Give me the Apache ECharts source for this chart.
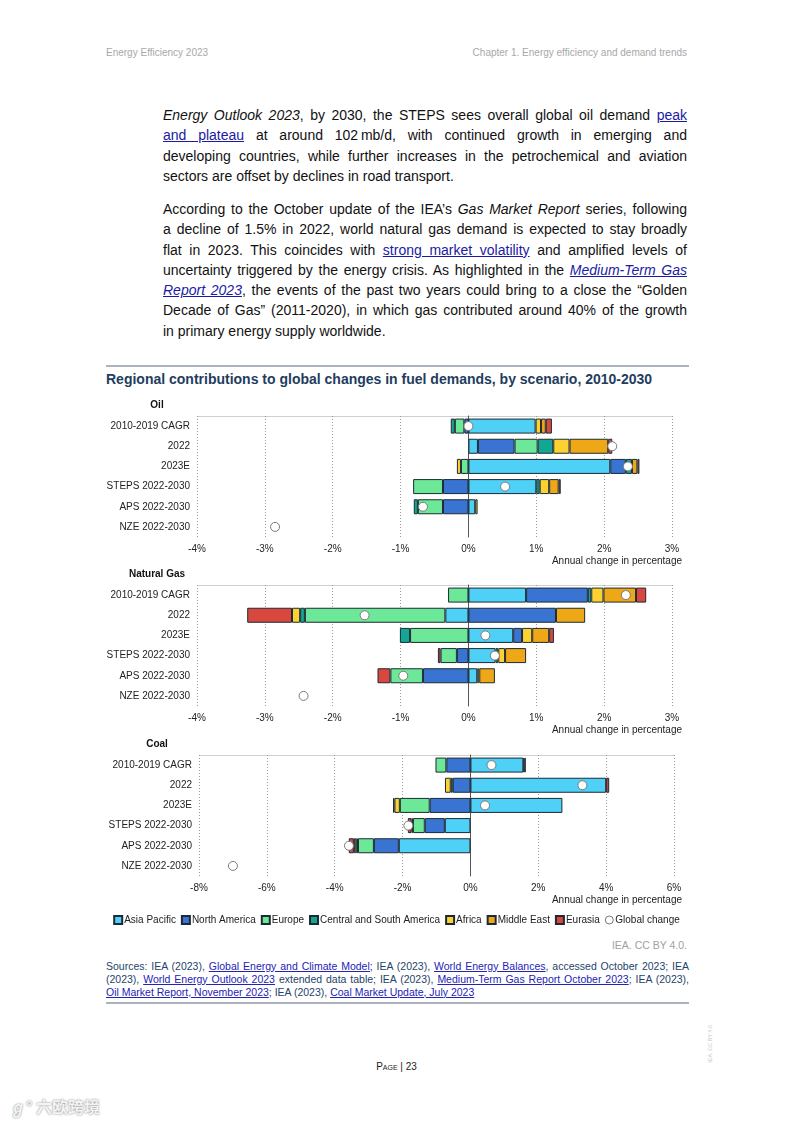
<!DOCTYPE html>
<html>
<head>
<meta charset="utf-8">
<script src="https://cdn.jsdelivr.net/npm/echarts@6/dist/echarts.min.js"></script>
<style>
html,body{margin:0;padding:0;background:#fff;}
body{width:793px;height:1122px;position:relative;overflow:hidden;font-family:"Liberation Sans",Arial,sans-serif;}
.hdr{position:absolute;top:47px;font-size:10px;color:#a8a8a8;}
.ln{position:absolute;left:163px;width:524px;font-size:14px;line-height:20px;height:20px;color:#111;text-align:justify;text-align-last:justify;white-space:nowrap;}
.ln.last{text-align-last:left;}
a{color:#1a1aa6;text-decoration:underline;}
.rule{position:absolute;left:106px;width:583px;height:2px;background:#aab3be;}
.title{position:absolute;left:106px;top:371px;font-size:14px;font-weight:bold;color:#1f3d5e;white-space:nowrap;}
.src{position:absolute;left:106px;width:583px;font-size:10.5px;line-height:13px;height:13px;color:#24446a;text-align:justify;text-align-last:justify;white-space:nowrap;}
.src.last{text-align-last:left;}
.src a{color:#2323b5;}
#chart{position:absolute;left:0;top:390px;width:793px;height:545px;}
</style>
</head>
<body>
<div class="hdr" style="left:106px;">Energy Efficiency 2023</div>
<div class="hdr" style="right:106px;">Chapter 1. Energy efficiency and demand trends</div>

<div class="ln" style="top:105px;"><i>Energy Outlook 2023</i>, by 2030, the STEPS sees overall global oil demand <a>peak</a></div>
<div class="ln" style="top:125px;"><a>and plateau</a> at around 102&#8239;mb/d, with continued growth in emerging and</div>
<div class="ln" style="top:145.5px;">developing countries, while further increases in the petrochemical and aviation</div>
<div class="ln last" style="top:166px;">sectors are offset by declines in road transport.</div>

<div class="ln" style="top:199px;">According to the October update of the IEA’s <i>Gas Market Report</i> series, following</div>
<div class="ln" style="top:219px;">a decline of 1.5% in 2022, world natural gas demand is expected to stay broadly</div>
<div class="ln" style="top:239.5px;">flat in 2023. This coincides with <a>strong market volatility</a> and amplified levels of</div>
<div class="ln" style="top:260px;">uncertainty triggered by the energy crisis. As highlighted in the <a><i>Medium-Term Gas</i></a></div>
<div class="ln" style="top:280px;"><a><i>Report 2023</i></a>, the events of the past two years could bring to a close the “Golden</div>
<div class="ln" style="top:300px;">Decade of Gas” (2011-2020), in which gas contributed around 40% of the growth</div>
<div class="ln last" style="top:320.5px;">in primary energy supply worldwide.</div>

<div class="rule" style="top:365px;"></div>
<div class="title">Regional contributions to global changes in fuel demands, by scenario, 2010-2030</div>

<div id="chart"></div>

<div class="hdr" style="right:106px;top:939px;font-size:10.5px;color:#a0a0a0;">IEA. CC BY 4.0.</div>

<div class="src" style="top:959.5px;">Sources: IEA (2023), <a>Global Energy and Climate Model;</a> IEA (2023), <a>World Energy Balances</a>, accessed October 2023; IEA</div>
<div class="src" style="top:972.5px;">(2023), <a>World Energy Outlook 2023</a> extended data table; IEA (2023), <a>Medium-Term Gas Report October 2023</a>; IEA (2023),</div>
<div class="src last" style="top:985.5px;"><a>Oil Market Report, November 2023</a>; IEA (2023), <a>Coal Market Update, July 2023</a></div>
<div class="rule" style="top:1002px;height:1.5px;"></div>

<div style="position:absolute;top:1061px;left:0;width:793px;text-align:center;font-size:10px;color:#222;font-variant:small-caps;">Page | 23</div>
<div style="position:absolute;left:680px;top:1040px;width:60px;font-size:5.5px;color:#c8c8c8;transform:rotate(-90deg);text-align:center;">IEA. CC BY 4.0.</div>
<div style="position:absolute;left:10px;top:1094px;font-size:16px;color:#f4f4f4;font-family:'Noto Sans CJK SC';text-shadow:0 0 2px #777;font-weight:bold;">ℊ° 六欧跨境</div>

<script>
// ---------- DATA ----------
const categories = ['2010-2019 CAGR', '2022', '2023E', 'STEPS 2022-2030', 'APS 2022-2030', 'NZE 2022-2030'];
const regions = ['Asia Pacific', 'North America', 'Europe', 'Central and South America', 'Africa', 'Middle East', 'Eurasia'];
const globalName = 'Global change';

// Oil: rows = regions (order as above), columns = categories (%)
const oilRegional = [
  [0.99, 0.14, 2.09, 1.00, 0.10, null],
  [-0.06, 0.54, 0.23, -0.375, -0.375, null],
  [-0.14, 0.34, -0.11, -0.44, -0.37, null],
  [-0.06, 0.23, 0.09, 0.05, -0.06, null],
  [0.08, 0.24, -0.06, 0.14, 0.035, null],
  [0.07, 0.57, 0.08, 0.14, null, null],
  [0.09, 0.06, 0.03, 0.03, null, null]
];
const oilGlobal = [0.0, 2.12, 2.35, 0.54, -0.67, -2.85];

const gasRegional = [
  [0.85, -0.34, 0.66, 0.40, 0.13, null],
  [0.91, 1.29, 0.13, -0.17, -0.67, null],
  [-0.30, -2.07, -0.86, -0.24, -0.48, null],
  [0.05, -0.07, -0.15, 0.04, null, null],
  [0.18, -0.12, 0.15, 0.10, 0.03, null],
  [0.48, 0.43, 0.25, 0.31, 0.23, null],
  [0.15, -0.66, 0.07, -0.04, -0.19, null]
];
const gasGlobal = [2.32, -1.53, 0.25, 0.39, -0.96, -2.43];

const coalRegional = [
  [1.56, 4.0, 2.71, -0.755, -2.11, null],
  [-0.71, -0.52, -1.2, -0.59, -0.735, null],
  [-0.32, null, -0.88, -0.35, -0.47, null],
  [0.03, -0.06, null, -0.04, -0.05, null],
  [null, -0.17, -0.16, null, -0.07, null],
  [null, null, -0.04, null, null, null],
  [0.04, 0.09, null, -0.11, -0.15, null]
];
const coalGlobal = [0.62, 3.3, 0.43, -1.83, -3.58, -7.0];

const panelTitles = ['Oil', 'Natural Gas', 'Coal'];
const axisRanges = [[-4, 3, 1], [-4, 3, 1], [-8, 6, 2]];
const axisTitle = 'Annual change in percentage';

// ---------- STYLE ----------
const regionColors = ['#4fd0f6', '#3a74d2', '#6de898', '#12a693', '#fbd232', '#eea717', '#d9483f'];
const panels = [
  {reg: oilRegional, glob: oilGlobal, top: 26, left: 197},
  {reg: gasRegional, glob: gasGlobal, top: 195, left: 197},
  {reg: coalRegional, glob: coalGlobal, top: 365, left: 199}
];
const gridW = 475, gridH = 121;

const grids = [], xAxes = [], yAxes = [], series = [], graphics = [];
panels.forEach((p, k) => {
  grids.push({left: p.left, top: p.top, width: gridW, height: gridH, containLabel: false});
  xAxes.push({
    type: 'value', gridIndex: k, min: axisRanges[k][0], max: axisRanges[k][1], interval: axisRanges[k][2],
    axisLine: {show: false}, axisTick: {show: false},
    axisLabel: {formatter: v => v + '%', fontSize: 10, color: '#222', margin: 7, fontFamily: 'Liberation Sans'},
    splitLine: {show: true, lineStyle: {type: [1, 2], color: '#9a9a9a', width: 1}}
  });
  yAxes.push({
    type: 'category', gridIndex: k, data: categories, inverse: true,
    axisTick: {show: false},
    axisLine: {show: true, onZero: true, lineStyle: {color: '#555', width: 1}},
    axisLabel: {fontSize: 10, color: '#222', margin: 7, fontFamily: 'Liberation Sans'},
    splitLine: {show: false}
  });
  regions.forEach((name, r) => {
    series.push({
      name: name, type: 'bar', stack: 'fuel' + k, xAxisIndex: k, yAxisIndex: k,
      barWidth: 15, data: p.reg[r],
      itemStyle: {color: regionColors[r], borderColor: '#1d2a33', borderWidth: 1},
      emphasis: {disabled: true}, animation: false
    });
  });
  series.push({
    name: globalName, type: 'scatter', xAxisIndex: k, yAxisIndex: k, z: 10,
    symbol: 'circle', symbolSize: 9,
    data: p.glob.map((v, i) => [v, categories[i]]),
    itemStyle: {color: '#fff', borderColor: '#7a7a7a', borderWidth: 1, opacity: 1},
    animation: false
  });
  graphics.push({type: 'text', x: 157, y: p.top - 16, style: {text: panelTitles[k], font: 'bold 10px "Liberation Sans"', fill: '#111', textAlign: 'center', textVerticalAlign: 'top'}});
  graphics.push({type: 'text', right: 793 - 682, top: p.top + gridH + 19, style: {text: axisTitle, font: '10px "Liberation Sans"', fill: '#222'}});
  graphics.push({type: 'line', shape: {x1: p.left, y1: p.top + 0.5, x2: p.left + gridW, y2: p.top + 0.5}, style: {stroke: '#cfcfcf', lineWidth: 1}});
});

const chart = echarts.init(document.getElementById('chart'), null, {renderer: 'canvas'});
chart.setOption({
  animation: false,
  grid: grids, xAxis: xAxes, yAxis: yAxes, series: series,
  legend: {
    left: 'center', top: 520, itemWidth: 8, itemHeight: 8, itemGap: 5,
    textStyle: {fontSize: 10, color: '#222', fontFamily: 'Liberation Sans', padding: [0, 0, 0, -3]},
    data: regions.map(n => ({name: n, icon: 'rect'})).concat([{name: globalName, icon: 'circle', itemStyle: {color: '#fff', borderColor: '#777', borderWidth: 1}}])
  },
  graphic: graphics
});
</script>
</body>
</html>
